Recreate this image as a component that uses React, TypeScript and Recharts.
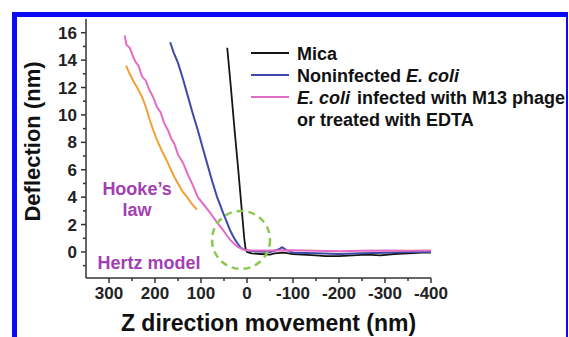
import { LineChart, Line, XAxis, YAxis, ReferenceDot, Label } from "recharts";

// [z movement (nm), deflection (nm)]
const MICA: [number, number][] = [
  [43, 14.9], [35, 12.0], [27, 8.9], [19, 6.0], [12, 3.3], [6, 1.0], [3, 0.2], [0, 0.0],
  [-10, -0.1], [-30, -0.15], [-50, -0.2], [-60, -0.1], [-80, -0.05], [-100, -0.15], [-120, -0.2],
  [-150, -0.25], [-170, -0.3], [-200, -0.3], [-230, -0.25], [-260, -0.2], [-290, -0.25],
  [-320, -0.15], [-350, -0.1], [-380, -0.05], [-400, -0.05],
];

const NONINFECTED: [number, number][] = [
  [167, 15.3], [160, 14.6], [150, 13.8], [139, 12.6], [128, 11.3], [117, 10.0], [107, 8.9],
  [98, 7.8], [87, 6.5], [76, 5.2], [65, 4.0], [58, 3.4], [52, 2.85], [44, 2.2], [37, 1.6],
  [31, 1.2], [26, 0.9], [20, 0.6], [15, 0.37], [9, 0.2], [4, 0.15], [0, 0.1], [-20, 0.05],
  [-50, 0.0], [-70, 0.2], [-76, 0.35], [-85, 0.15], [-100, -0.05], [-150, -0.1], [-200, -0.15],
  [-250, -0.1], [-300, -0.05], [-350, 0.0], [-400, 0.0],
];

const INFECTED: [number, number][] = [
  [266, 15.8], [262, 15.1], [255, 14.9], [248, 14.3], [243, 13.9], [236, 13.6], [228, 12.8],
  [220, 12.5], [212, 11.8], [204, 11.3], [196, 10.6], [188, 10.2], [180, 9.4], [172, 8.9],
  [165, 8.3], [158, 7.9], [150, 7.1], [139, 6.5], [128, 5.6], [118, 4.9], [107, 4.0], [95, 3.5],
  [80, 2.85], [66, 2.2], [52, 1.6], [44, 1.2], [37, 0.9], [28, 0.6], [20, 0.37], [10, 0.2],
  [4, 0.15], [0, 0.12], [-50, 0.1], [-100, 0.12], [-150, 0.08], [-200, 0.05], [-250, 0.08],
  [-300, 0.1], [-350, 0.08], [-400, 0.1],
];

const HOOKE: [number, number][] = [
  [263, 13.6], [255, 13.0], [246, 12.4], [237, 11.9], [228, 11.3], [220, 10.6], [212, 9.7],
  [204, 8.9], [196, 8.2], [184, 7.3], [172, 6.5], [160, 5.6], [150, 5.0], [140, 4.4],
  [130, 4.0], [120, 3.5], [109, 3.1],
];

const X_TICKS = [300, 250, 200, 150, 100, 50, 0, -50, -100, -150, -200, -250, -300, -350, -400];
const Y_TICKS = [-1, 0, 1, 2, 3, 4, 5, 6, 7, 8, 9, 10, 11, 12, 13, 14, 15, 16];

// legend text, one inner list per series (one string per printed line)
const SERIES_NAMES = [["Mica"], ["Noninfected E. coli"], ["E. coli infected with M13 phage", "or treated with EDTA"]];
const SERIES_COLORS = ["#151515", "#3f4aa8", "#e56cc4"];

const toPoints = (arr: [number, number][]) => arr.map(([x, y]) => ({ x, y }));

const FONT = "'Liberation Sans', Arial, sans-serif";
const AXIS = "#333";
const PURPLE = "#a23fb3";
const TICK_SIZE = 5;
const TICK_MARGIN = 4;

function YTick({ x, y, payload }: any) {
  const v = payload.value;
  const major = v % 2 === 0;
  const ax = x + TICK_SIZE + TICK_MARGIN;
  return (
    <g>
      <line x1={ax} x2={ax - (major ? 5 : 3)} y1={y} y2={y} stroke={AXIS} strokeWidth={1.5} />
      {major && (
        <text x={x} y={y} dy="0.36em" textAnchor="end" fontFamily={FONT} fontWeight="bold" fontSize={17} fill="#222">
          {v}
        </text>
      )}
    </g>
  );
}

function XTick({ x, y, payload }: any) {
  const v = payload.value;
  const major = v % 100 === 0;
  const ay = y - TICK_SIZE - TICK_MARGIN;
  return (
    <g>
      <line x1={x} x2={x} y1={ay} y2={ay + (major ? 5 : 3)} stroke={AXIS} strokeWidth={1.5} />
      {major && (
        <text x={x} y={y} dy="0.72em" textAnchor="middle" fontFamily={FONT} fontWeight="bold" fontSize={17} fill="#222">
          {v}
        </text>
      )}
    </g>
  );
}

function withItalic(line: string) {
  const parts = line.split("E. coli");
  const out: any[] = [];
  parts.forEach((p, i) => {
    if (i > 0) out.push(<i key={"i" + i} style={{ paddingRight: 2 }}>E. coli</i>);
    if (p) out.push(<span key={"s" + i}>{p}</span>);
  });
  return out;
}

function LegendBox() {
  return (
    <div style={{ position: "absolute", top: 43, left: 251, fontFamily: FONT, fontWeight: "bold", fontSize: 18, lineHeight: "22px", color: "#111" }}>
      {SERIES_NAMES.map((lines, i) => (
        <div key={i} style={{ display: "flex", alignItems: "flex-start" }}>
          <span style={{ width: 38, height: 2, background: SERIES_COLORS[i], marginTop: 9, marginRight: 8, flex: "none" }} />
          <div style={{ whiteSpace: "nowrap" }}>
            {lines.map((line) => (
              <div key={line}>{withItalic(line)}</div>
            ))}
          </div>
        </div>
      ))}
    </div>
  );
}

const YTitle = ({ viewBox }: any) => {
  const cx = viewBox.x + 32;
  const cy = viewBox.y + viewBox.height / 2 - 7;
  return (
    <text x={cx} y={cy} dy="0.35em" textAnchor="middle" transform={`rotate(-90, ${cx}, ${cy})`}
      fontFamily={FONT} fontWeight="bold" fontSize={22} fill="#111">
      Deflection (nm)
    </text>
  );
};

const XTitle = ({ viewBox }: any) => {
  const cx = viewBox.x + viewBox.width / 2 + 10;
  return (
    <text x={cx} y={viewBox.y + 45} dy="0.35em" textAnchor="middle" fontFamily={FONT} fontWeight="bold" fontSize={23} fill="#111">
      Z direction movement (nm)
    </text>
  );
};

export default function App() {
  return (
    <div style={{ position: "absolute", left: 0, top: 0, width: 569, height: 337, background: "#fff", overflow: "hidden" }}>
      <div
        style={{
          position: "absolute", left: 12, top: 12, width: 556, height: 340, boxSizing: "border-box",
          borderTop: "5px solid #0a0af5", borderLeft: "5px solid #0a0af5", borderRight: "2px solid #0a0af5",
        }}
      />
      <div style={{ position: "absolute", left: 0, top: 0 }}>
        <LineChart width={569} height={337} margin={{ top: 19, right: 138, left: 0, bottom: 0 }}>
          <XAxis
            type="number"
            dataKey="x"
            domain={[-400, 350]}
            reversed
            ticks={X_TICKS}
            interval={0}
            tick={<XTick />}
            tickLine={false}
            tickSize={TICK_SIZE}
            tickMargin={TICK_MARGIN}
            height={59}
            axisLine={{ stroke: AXIS, strokeWidth: 1.5 }}
            allowDataOverflow
          >
            <Label content={<XTitle />} />
          </XAxis>
          <YAxis
            type="number"
            domain={[-1.9, 17]}
            ticks={Y_TICKS}
            interval={0}
            tick={<YTick />}
            tickLine={false}
            tickSize={TICK_SIZE}
            tickMargin={TICK_MARGIN}
            width={86}
            axisLine={{ stroke: AXIS, strokeWidth: 1.5 }}
            allowDataOverflow
          >
            <Label content={<YTitle />} />
          </YAxis>
          <Line data={toPoints(MICA)} dataKey="y" name="Mica" stroke={SERIES_COLORS[0]} strokeWidth={1.8} dot={false} isAnimationActive={false} />
          <Line data={toPoints(NONINFECTED)} dataKey="y" name="Noninfected" stroke={SERIES_COLORS[1]} strokeWidth={2} dot={false} isAnimationActive={false} />
          <Line data={toPoints(INFECTED)} dataKey="y" name="Infected" stroke={SERIES_COLORS[2]} strokeWidth={2} dot={false} isAnimationActive={false} />
          <Line data={toPoints(HOOKE)} dataKey="y" name="Hooke" stroke="#f2a035" strokeWidth={2} dot={false} isAnimationActive={false} />
          <ReferenceDot x={13} y={0.88} r={29} fill="none" stroke="#8cc850" strokeWidth={2.5} strokeDasharray="7 5" />
          <ReferenceDot
            x={239}
            y={3.66}
            r={0}
            shape={(p: any) => (
              <text x={p.cx} y={p.cy} textAnchor="middle" fontFamily={FONT} fontWeight="bold" fontSize={18} fill={PURPLE}>
                <tspan x={p.cx} dy="-0.4em">Hooke’s</tspan>
                <tspan x={p.cx} dy="1.2em">law</tspan>
              </text>
            )}
          />
          <ReferenceDot
            x={213}
            y={-0.8}
            r={0}
            shape={(p: any) => (
              <text x={p.cx} y={p.cy} dy="0.36em" textAnchor="middle" fontFamily={FONT} fontWeight="bold" fontSize={18} fill={PURPLE}>
                Hertz model
              </text>
            )}
          />
        </LineChart>
      </div>
      <LegendBox />
    </div>
  );
}
